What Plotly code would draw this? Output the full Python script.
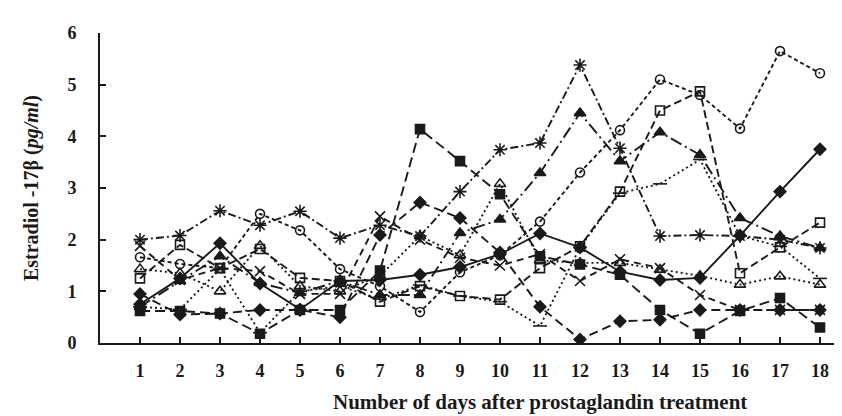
import plotly.graph_objects as go

days = list(range(1, 19))

# series values (pg/ml)
s_solid_diamond = [0.75, 1.25, 1.93, 1.15, 0.65, 1.2, 1.22, 1.32, 1.47, 1.72, 2.12, 1.85, 1.38, 1.22, 1.26, 2.08, 2.93, 3.75]
s_circle = [1.66, 1.53, 1.45, 2.5, 2.18, 1.43, 1.1, 0.6, 1.37, 1.7, 2.35, 3.3, 4.12, 5.1, 4.8, 4.15, 5.65, 5.22]
s_filled_square = [0.62, 0.62, 0.57, 0.18, 0.64, 0.64, 1.4, 4.14, 3.52, 2.88, 1.68, 1.52, 1.32, 0.64, 0.18, 0.62, 0.87, 0.3]
s_asterisk = [2.0, 2.08, 2.56, 2.28, 2.55, 2.03, 2.28, 2.07, 2.93, 3.74, 3.87, 5.38, 3.77, 2.07, 2.09, 2.07, 2.0, 1.84]
s_filled_triangle = [0.7, 1.2, 1.68, 1.16, 0.97, 1.2, 0.93, 0.93, 2.13, 2.39, 3.29, 4.45, 3.52, 4.08, 3.64, 2.42, 2.07, 1.84]
s_open_square = [1.25, 1.9, 1.45, 1.82, 1.26, 1.2, 0.8, 1.1, 0.91, 0.84, 1.45, 1.87, 2.93, 4.5, 4.87, 1.35, 1.85, 2.33]
s_open_triangle = [1.43, 1.35, 1.0, 1.88, 1.1, 1.0, 1.3, 2.07, 1.7, 3.08, 1.6, 1.55, 1.55, 1.42, 1.3, 1.13, 1.29, 1.13]
s_cross = [1.88, 1.22, 1.45, 1.39, 0.95, 0.95, 2.45, 2.0, 1.65, 1.5, 1.72, 1.2, 1.62, 1.45, 0.93, 0.64, 0.64, 0.64]
s_low_diamond = [0.95, 0.55, 0.57, 0.64, 0.64, 0.5, 2.09, 2.72, 2.42, 1.75, 0.7, 0.07, 0.42, 0.45, 0.64, 0.64, 0.64, 0.64]
s_dash_marker = [0.7, 0.65, 1.43, 0.2, 1.0, 1.1, 0.85, 1.12, 0.91, 0.8, 0.33, 1.85, 2.9, 3.08, 3.55, 2.07, 1.87, 1.25]

y_ticks = [0, 1, 2, 3, 4, 5, 6]

series = [
    (s_solid_diamond, "solid", "diamond", 9),
    (s_circle, "4px,3px", "circle-open", 9),
    (s_filled_square, "10px,5px", "square", 9),
    (s_asterisk, "8px,3px,2px,3px", "asterisk-open", 11),
    (s_filled_triangle, "12px,4px,2px,4px", "triangle-up", 10),
    (s_open_square, "8px,4px", "square-open", 9),
    (s_open_triangle, "2px,3px", "triangle-up-open", 10),
    (s_cross, "7px,5px", "x-thin-open", 10),
    (s_low_diamond, "9px,5px", "diamond", 9),
    (s_dash_marker, "2px,3px", "line-ew-open", 10),
]

fig = go.Figure()
for vals, dash, sym, size in series:
    fig.add_trace(go.Scatter(
        x=days, y=vals, mode="lines+markers",
        line=dict(color="#1a1a1a", width=1.9, dash=dash),
        marker=dict(symbol=sym, size=size, color="#1a1a1a",
                    line=dict(color="#1a1a1a", width=1.6)),
        showlegend=False,
    ))

font_family = "Liberation Serif, Times New Roman, serif"
fig.update_layout(
    width=842, height=416,
    margin=dict(l=92, r=4, t=25, b=81),
    plot_bgcolor="white", paper_bgcolor="white",
    font=dict(family=font_family, color="#1a1a1a"),
    xaxis=dict(
        range=[0, 18.65], tickvals=days, ticktext=[str(d) for d in days],
        ticks="inside", ticklen=6, tickwidth=1.5, tickcolor="#1a1a1a",
        showline=True, linecolor="#1a1a1a", linewidth=1.8, showgrid=False, zeroline=False,
        tickfont=dict(family=font_family, size=18, weight="bold"),
        ticklabelstandoff=10,
    ),
    yaxis=dict(
        range=[0, 6], tickvals=y_ticks,
        ticks="inside", ticklen=6, tickwidth=1.5, tickcolor="#1a1a1a",
        showline=True, linecolor="#1a1a1a", linewidth=1.8, showgrid=False, zeroline=False,
        tickfont=dict(family=font_family, size=18, weight="bold"),
        ticklabelstandoff=18,
        title=dict(text="Estradiol -17β (<i>pg/ml</i>)",
                   font=dict(family=font_family, size=20, weight="bold"), standoff=24),
    ),
    annotations=[dict(
        text="Number of days after prostaglandin treatment",
        xref="paper", yref="paper", x=0.59, y=-0.19, xanchor="center", yanchor="middle",
        showarrow=False, font=dict(family=font_family, size=21, weight="bold"),
    )],
)

fig.write_html("out.html")
